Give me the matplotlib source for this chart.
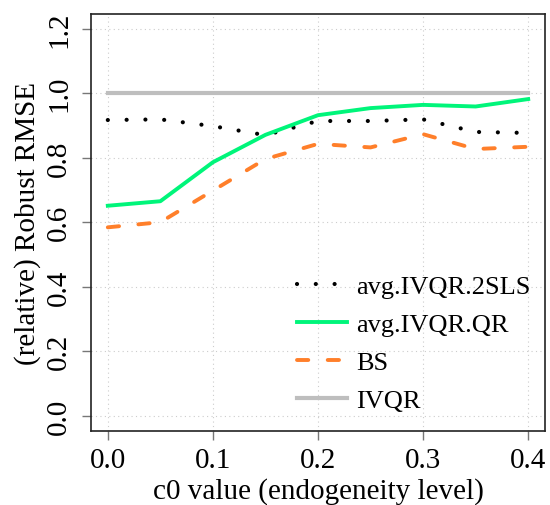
import matplotlib
matplotlib.use("Agg")
import matplotlib.pyplot as plt

c0 = [0.0, 0.05, 0.1, 0.15, 0.2, 0.25, 0.3, 0.35, 0.4]
avg_ivqr_2sls = [0.917, 0.919, 0.898, 0.870, 0.914, 0.914, 0.919, 0.880, 0.877]
avg_ivqr_qr = [0.651, 0.665, 0.786, 0.871, 0.932, 0.954, 0.964, 0.959, 0.982]
bs = [0.584, 0.600, 0.698, 0.796, 0.843, 0.832, 0.873, 0.827, 0.834]
ivqr = [1.0, 1.0, 1.0, 1.0, 1.0, 1.0, 1.0, 1.0, 1.0]

xticks = [0.0, 0.1, 0.2, 0.3, 0.4]
yticks = [0.0, 0.2, 0.4, 0.6, 0.8, 1.0, 1.2]

plt.rcParams['font.family'] = ['Liberation Serif', 'DejaVu Serif']

fig = plt.figure(figsize=(5.5, 5.06), dpi=100)
ax = fig.add_axes([91/550, 1 - 432/506, (545 - 91)/550, (432 - 15)/506])

ax.plot(c0, avg_ivqr_2sls, color='black', linestyle=(0, (0.01, 4.5)), linewidth=3.0,
        dash_capstyle='round', label='avg.IVQR.2SLS', zorder=3)
ax.plot(c0, avg_ivqr_qr, color='#00F57A', linewidth=2.8, label='avg.IVQR.QR', zorder=3)
ax.plot(c0, bs, color='#FF7F2A', linewidth=2.8, linestyle=(0, (2.9, 5.0)),
        dash_capstyle='round', label='BS', zorder=3)
ax.plot(c0, ivqr, color='#BEBEBE', linewidth=3.0, label='IVQR', zorder=2)

ax.set_xlim(-0.016, 0.416)
ax.set_ylim(-0.048, 1.246)
ax.set_xticks(xticks)
ax.set_xticklabels([f"{v:.1f}" for v in xticks])
ax.set_yticks(yticks)
ax.set_yticklabels([f"{v:.1f}" for v in yticks], rotation=90, va='center')
ax.tick_params(axis='both', labelsize=21, length=6.5, width=1, color='#777777', direction='out')
ax.tick_params(axis='y', pad=7)
ax.tick_params(axis='x', pad=5)
ax.grid(True, color='#CCCCCC', linestyle=(0, (1, 3)), linewidth=0.8)
for s in ax.spines.values():
    s.set_color('#222222')
    s.set_linewidth(1.2)

ax.set_xlabel('c0 value (endogeneity level)', fontsize=21, labelpad=3)
ax.set_ylabel('(relative) Robust RMSE', fontsize=21, labelpad=4)

ax.legend(loc='lower right', frameon=False, fontsize=19, handlelength=1.9,
          handletextpad=0.37, labelspacing=0.55, borderaxespad=0.0,
          bbox_to_anchor=(0.992, 0.02))

fig.savefig('out.png', dpi=100)
